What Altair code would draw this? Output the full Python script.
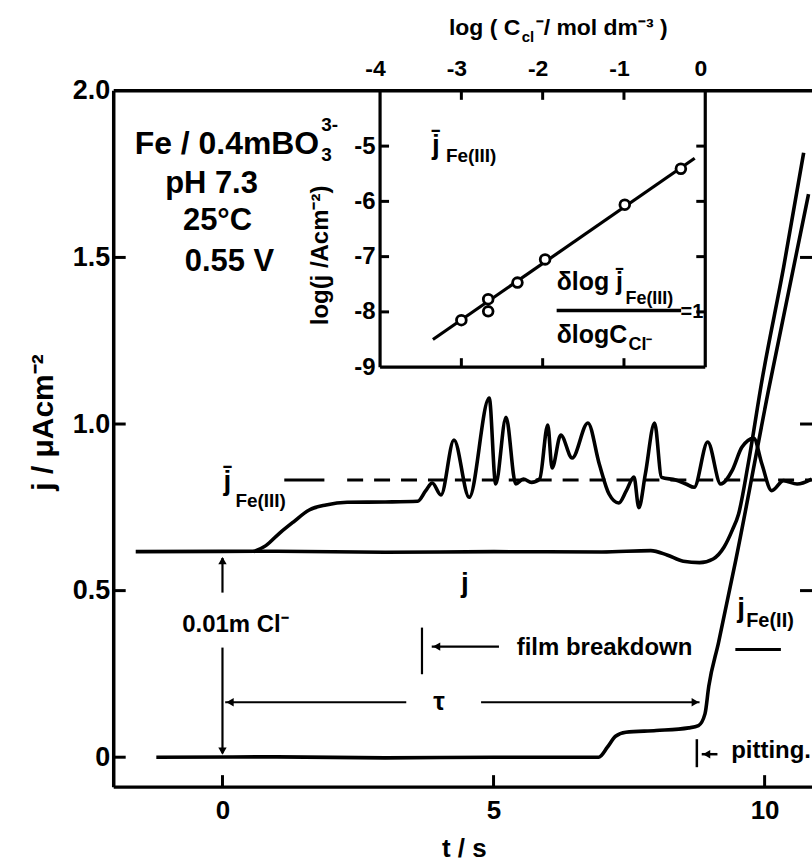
import altair as alt
import pandas as pd

FONT = "Liberation Sans"

# ---------------- main panel data (t / s , j / uA cm^-2) ----------------
disk_t = [-1.6, 1.0, 3.0, 5.0, 7.0, 7.9, 8.2, 8.5, 8.8, 9.05, 9.25, 9.4, 9.52, 9.7, 9.95, 10.35, 10.72]
disk_j = [0.617, 0.618, 0.615, 0.617, 0.616, 0.62, 0.607, 0.588, 0.584, 0.595, 0.63, 0.68, 0.73, 0.883, 1.13, 1.47, 1.814]

fe3_t = [0.57, 0.8, 1.05, 1.3, 1.6, 1.91, 2.3, 3.0, 3.6, 3.75, 3.87, 4.03, 4.27, 4.55,
         4.92, 5.04, 5.23, 5.41, 5.55, 5.7, 5.85, 6.0, 6.08, 6.24, 6.45, 6.74, 6.95, 7.13,
         7.31, 7.45, 7.59, 7.68, 7.8, 7.97, 8.1, 8.36, 8.55, 8.7, 8.95, 9.19, 9.4, 9.58,
         9.8, 9.95, 10.13, 10.35, 10.6, 10.87]
fe3_j = [0.617, 0.635, 0.672, 0.705, 0.742, 0.757, 0.765, 0.766, 0.768, 0.80, 0.823, 0.787, 0.952, 0.78,
         1.078, 0.82, 1.02, 0.82, 0.835, 0.825, 0.835, 0.997, 0.868, 0.967, 0.898, 1.003, 0.88, 0.79,
         0.763, 0.80, 0.841, 0.749, 0.85, 1.003, 0.84, 0.832, 0.82, 0.81, 0.946, 0.82, 0.86, 0.93,
         0.957, 0.88, 0.80, 0.83, 0.82, 0.835]

ring_t = [-1.22, 1.0, 3.0, 5.0, 6.94, 7.1, 7.25, 7.44, 8.0, 8.6, 8.78, 8.9, 8.97, 9.15, 9.47, 10.07, 10.81]
ring_j = [0.0, 0.001, -0.002, 0.0, 0.0, 0.03, 0.063, 0.075, 0.08, 0.088, 0.095, 0.13, 0.213, 0.344, 0.593, 1.10, 1.69]

mean_fe3_level = 0.832
mean_line_t = [2.3, 10.874]

# ---------------- inset data ----------------
inset_logc = [-3.0, -2.67, -2.67, -2.31, -1.97, -0.99, -0.30]
inset_logj = [-8.15, -7.77, -7.99, -7.47, -7.05, -6.06, -5.41]
fit_logc = [-3.35, -0.13]
fit_logj = [-8.50, -5.22]

# tick values
main_t_ticks = [0, 5, 10]
main_j_ticks = [0, 0.5, 1.0, 1.5, 2.0]
inset_c_ticks = [-4, -3, -2, -1, 0]
inset_j_ticks = [-9, -8, -7, -6, -5]

# ---------------- annotations (in main data units) ----------------
rule_t1 = [0, 0, 0.05, 4.77, 3.68, 3.86, 8.75, 8.84, 9.46, 1.14, 6.164]
rule_j1 = [0.494, 0.329, 0.165, 0.165, 0.249, 0.332, -0.03, 0.009, 0.323, 0.832, 1.341]
rule_t2 = [0, 0, 3.39, 8.80, 3.68, 5.10, 8.75, 9.13, 10.30, 1.88, 8.46]
rule_j2 = [0.598, 0.012, 0.165, 0.165, 0.389, 0.332, 0.054, 0.009, 0.323, 0.832, 1.341]
rule_w = [2.2, 2.2, 2.2, 2.2, 2.2, 2.2, 2.5, 2.5, 3, 3, 3.5]

head_t = [0, 0, 0.14, 8.72, 3.95, 8.93]
head_j = [0.590, 0.018, 0.165, 0.165, 0.332, 0.009]
head_shape = ["triangle-up", "triangle-down", "triangle-left", "triangle-right", "triangle-left", "triangle-left"]

left_text = ["Fe / 0.4mBO", "3-", "3", "Fe(III)", "Fe(III)", "δlog j̄", "Fe(III)", "=1", "δlogC", "Cl⁻",
             "film breakdown", "pitting.", "Fe(II)", "log ( C", "cl", "⁻/ mol dm⁻³ )"]
left_t = [-1.619, 1.822, 1.822, 0.239, 4.121, 6.164, 7.433, 8.45, 6.164, 7.489,
          5.428, 9.384, 9.66, 4.177, 5.52, 5.777]
left_j = [1.811, 1.880, 1.790, 0.751, 1.787, 1.401, 1.359, 1.317, 1.243, 1.222,
          0.308, -0.003, 0.392, 2.168, 2.147, 2.168]
left_fs = [32, 19, 19, 19, 19, 25, 18, 20, 25, 18, 24, 24, 20, 23, 15, 23]

center_text = ["pH 7.3", "25°C", "0.55 V", "j̄", "j̄", "j", "j", "τ", "0.01m Cl⁻"]
center_t = [-0.202, -0.092, 0.129, 0.092, 3.937, 4.471, 9.568, 3.993, 0.239]
center_j = [1.692, 1.581, 1.458, 0.802, 1.811, 0.497, 0.422, 0.141, 0.377]
center_fs = [31, 31, 31, 28, 28, 28, 28, 26, 24]

inset_ylabel = "log(j /Acm⁻²)"
inset_ylabel_t, inset_ylabel_j = 1.822, 1.506

# ---------------- scales & axes ----------------
xs = alt.Scale(domain=[-2.006, 10.874], nice=False, zero=False)
ys = alt.Scale(domain=[-0.0898, 2.0], nice=False, zero=False)
x_axis = alt.Axis(values=main_t_ticks, tickSize=0, domain=False, grid=False,
                  labelFontSize=26, labelPadding=10, labelFlush=False,
                  title="t / s", titleFontSize=26, titleX=351, titleY=62,
                  titleAlign="center", titleBaseline="middle")
y_axis = alt.Axis(values=main_j_ticks, tickSize=0, domain=False, grid=False,
                  labelExpr="datum.value == 0 ? '0' : format(datum.value, '.1f')",
                  labelFontSize=27, labelPadding=4, labelFlush=False,
                  title="j / μAcm⁻²", titleFontSize=30, titleAngle=270,
                  titleX=-70, titleY=332, titleAlign="center", titleBaseline="middle")

X = lambda f: alt.X(f, type="quantitative", scale=xs, axis=x_axis)
Y = lambda f: alt.Y(f, type="quantitative", scale=ys, axis=y_axis)

curves = pd.DataFrame({
    "t": disk_t + fe3_t + ring_t,
    "j": disk_j + fe3_j + ring_j,
    "s": ["disk"] * len(disk_t) + ["fe3"] * len(fe3_t) + ["ring"] * len(ring_t),
})
lines = alt.Chart(curves).mark_line(color="black", strokeWidth=3.6, interpolate="monotone").encode(
    x=X("t"), y=Y("j"), detail="s:N")

mean_df = pd.DataFrame({"t": [mean_line_t[0]], "t2": [mean_line_t[1]], "j": [mean_fe3_level]})
dashed = alt.Chart(mean_df).mark_rule(color="black", strokeWidth=3, strokeDash=[16, 11]).encode(
    x=X("t"), x2="t2", y=Y("j"))

rules_df = pd.DataFrame({"t": rule_t1, "j": rule_j1, "t2": rule_t2, "j2": rule_j2, "w": rule_w})
rules = alt.Chart(rules_df).mark_rule(color="black").encode(
    x=X("t"), x2="t2", y=Y("j"), y2="j2", strokeWidth=alt.StrokeWidth("w:Q", scale=None))

heads_df = pd.DataFrame({"t": head_t, "j": head_j, "shape": head_shape})
heads = alt.Chart(heads_df).mark_point(filled=True, color="black", size=70, opacity=1).encode(
    x=X("t"), y=Y("j"), shape=alt.Shape("shape:N", scale=None))

left_df = pd.DataFrame({"t": left_t, "j": left_j, "text": left_text, "fs": left_fs})
ltext = alt.Chart(left_df).mark_text(align="left", baseline="alphabetic", font=FONT,
                                     fontWeight="bold", color="black").encode(
    x=X("t"), y=Y("j"), text="text:N", size=alt.Size("fs:Q", scale=None))

center_df = pd.DataFrame({"t": center_t, "j": center_j, "text": center_text, "fs": center_fs})
ctext = alt.Chart(center_df).mark_text(align="center", baseline="alphabetic", font=FONT,
                                       fontWeight="bold", color="black").encode(
    x=X("t"), y=Y("j"), text="text:N", size=alt.Size("fs:Q", scale=None))

rot_df = pd.DataFrame({"t": [inset_ylabel_t], "j": [inset_ylabel_j], "text": [inset_ylabel]})
rtext = alt.Chart(rot_df).mark_text(align="center", baseline="middle", angle=270, font=FONT,
                                    fontWeight="bold", fontSize=24, color="black").encode(
    x=X("t"), y=Y("j"), text="text:N")

# frame of the main panel (left, top, bottom edges)
frame_v = alt.Chart(pd.DataFrame({"j": [-0.0898], "j2": [2.0]})).mark_rule(color="black", strokeWidth=3.5).encode(
    y=Y("j"), y2="j2", x=alt.value(0))
frame_h = alt.Chart(pd.DataFrame({"j": [-0.0898, 2.0]})).mark_rule(color="black", strokeWidth=3.5).encode(
    y=Y("j"), x=alt.value(0), x2=alt.value(700))

# inward ticks of the main frame
lt_df = pd.DataFrame({"j": main_j_ticks[:-1]})
left_ticks = alt.Chart(lt_df).mark_rule(color="black", strokeWidth=3).encode(
    y=Y("j"), x=alt.value(0), x2=alt.value(12))
rt_df = pd.DataFrame({"j": [0.5, 1.0, 1.5]})
right_ticks = alt.Chart(rt_df).mark_rule(color="black", strokeWidth=3).encode(
    y=Y("j"), x=alt.value(688), x2=alt.value(700))
bt_df = pd.DataFrame({"t": main_t_ticks})
bottom_ticks = alt.Chart(bt_df).mark_rule(color="black", strokeWidth=3).encode(
    x=X("t"), y=alt.value(698), y2=alt.value(686))

main = alt.layer(lines, dashed, rules, heads, ltext, ctext, rtext, frame_v, frame_h,
                 left_ticks, right_ticks, bottom_ticks)

# ---------------- inset ----------------
ixs = alt.Scale(domain=[-4, 0], range=[267, 593], nice=False, zero=False)
iys = alt.Scale(domain=[-9, -4], range=[277, 0], nice=False, zero=False)
ix_axis = alt.Axis(orient="top", values=inset_c_ticks, tickSize=0, domain=False, grid=False,
                   labelExpr="datum.value == 0 ? '0' : '-' + abs(datum.value)",
                   labelFontSize=23, labelPadding=10, labelOffset=-5, labelFlush=False, title=None)
iy_axis = alt.Axis(orient="left", offset=-267, values=inset_j_ticks, tickSize=0, domain=False,
                   grid=False, labelExpr="'-' + abs(datum.value)", labelFontSize=24, labelPadding=5,
                   labelFlush=False, title=None)
IX = lambda f: alt.X(f, type="quantitative", scale=ixs, axis=ix_axis)
IY = lambda f: alt.Y(f, type="quantitative", scale=iys, axis=iy_axis)

fit_df = pd.DataFrame({"c": fit_logc, "lj": fit_logj})
fit = alt.Chart(fit_df).mark_line(color="black", strokeWidth=3.2).encode(x=IX("c"), y=IY("lj"))

pts_df = pd.DataFrame({"c": inset_logc, "lj": inset_logj})
pts = alt.Chart(pts_df).mark_point(shape="circle", filled=True, fill="white", stroke="black",
                                   strokeWidth=2.8, size=95, opacity=1).encode(x=IX("c"), y=IY("lj"))

frame_df = pd.DataFrame({"c": [0, -4, -4], "lj": [-9, -9, -9], "c2": [0, 0, -4], "lj2": [-4, -9, -4]})
frame = alt.Chart(frame_df).mark_rule(color="black", strokeWidth=3.2).encode(
    x=IX("c"), x2="c2", y=IY("lj"), y2="lj2")

itop_df = pd.DataFrame({"c": [-3, -2, -1]})
itop = alt.Chart(itop_df).mark_rule(color="black", strokeWidth=3).encode(
    x=IX("c"), y=alt.value(0), y2=alt.value(9))
ibot = alt.Chart(itop_df).mark_rule(color="black", strokeWidth=3).encode(
    x=IX("c"), y=alt.value(277), y2=alt.value(268))
iside_df = pd.DataFrame({"lj": [-8, -7, -6, -5]})
iright = alt.Chart(iside_df).mark_rule(color="black", strokeWidth=3).encode(
    y=IY("lj"), x=alt.value(593), x2=alt.value(584))
ileft = alt.Chart(iside_df).mark_rule(color="black", strokeWidth=3).encode(
    y=IY("lj"), x=alt.value(267), x2=alt.value(276))

inset = alt.layer(fit, pts, frame, itop, ibot, iright, ileft)

chart = alt.layer(main, inset).resolve_scale(x="independent", y="independent").properties(
    width=700, height=698,
    padding={"left": 114, "top": 90, "right": 0, "bottom": 76},
    autosize=alt.AutoSizeParams(type="none"),
    background="white",
).configure_view(stroke="transparent").configure_axis(
    labelFont=FONT, titleFont=FONT, labelFontWeight="bold", titleFontWeight="bold",
    labelColor="black", titleColor="black", domainColor="black", tickColor="black",
)

chart.save("out.html", embed_options={"renderer": "svg", "actions": False})
